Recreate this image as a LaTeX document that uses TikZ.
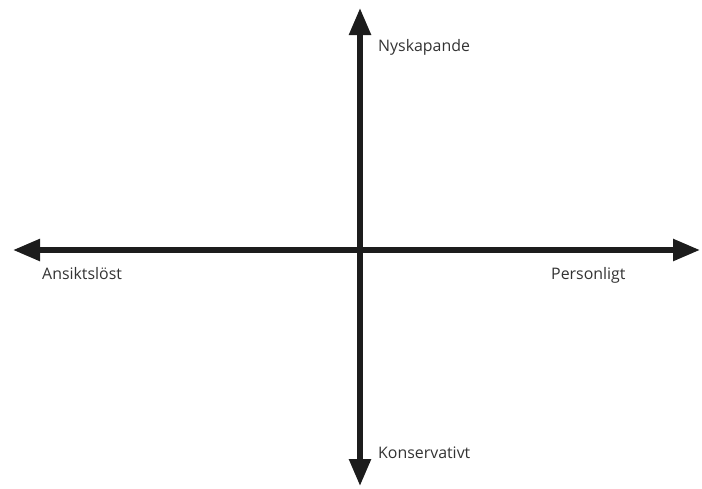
\documentclass[tikz,border=0pt]{standalone}
\usepackage{fontspec}
\setmainfont{Open Sans}
\usepackage{xcolor}
\usetikzlibrary{arrows.meta,positioning}
\definecolor{Ink}{HTML}{1C1C1C}
\definecolor{Label}{HTML}{333333}

\begin{document}
\begin{tikzpicture}[x=1pt,y=-1pt,
  axis/.style={{Triangle[length=27pt,width=21pt]}-{Triangle[length=27pt,width=21pt]},line width=5.5pt,color=Ink},
  lbl/.style={anchor=base west,inner sep=0pt,font=\fontsize{15.9}{19}\selectfont,text=Label}]
  \useasboundingbox (0,0) rectangle (702,488);
  \coordinate (west) at (13,250);
  \coordinate (east) at (700,250);
  \coordinate (north) at (360,8);
  \coordinate (south) at (360,486);
  \draw[axis] (west)--(east);
  \draw[axis] (south)--(north);
  \node[lbl] (new) at (378,51) {Nyskapande};
  \node[lbl] (old) at (378,458) {Konservativt};
  \node[lbl] (faceless) at (42,279) {Ansiktslöst};
  \node[lbl] (personal) at (551,279) {Personligt};
\end{tikzpicture}
\end{document}
